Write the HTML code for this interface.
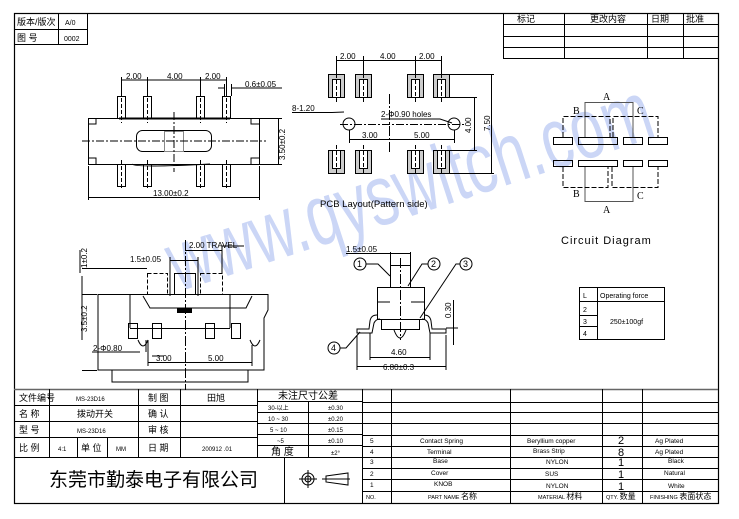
<!DOCTYPE html>
<html><head><meta charset="utf-8"><style>
html,body{margin:0;padding:0;background:#fff;}
svg{display:block}
text{font-family:"Liberation Sans","Noto Sans CJK SC",sans-serif;fill:#000}
</style></head><body>
<svg width="739" height="519" viewBox="0 0 739 519" xmlns="http://www.w3.org/2000/svg">
<!-- watermark -->
<text x="178" y="292" transform="rotate(-18 178 292)" font-size="86" textLength="505" lengthAdjust="spacingAndGlyphs" style="fill:#cbd6f6;font-family:'Liberation Sans',sans-serif">www.qyswitch.com</text>
<g fill="none" stroke="#000" stroke-width="1">
<!-- frame -->
<rect x="14.5" y="13.5" width="704" height="490" stroke-width="1.2"/>
<line x1="14" y1="389.5" x2="718" y2="389.5" stroke="#666" stroke-width="1.5"/>
<!-- top-left box -->
<rect x="14.5" y="13.5" width="73" height="31"/>
<line x1="58.5" y1="13" x2="58.5" y2="44"/>
<line x1="14" y1="29.5" x2="87" y2="29.5"/>
<!-- rev table -->
<rect x="503.5" y="13.5" width="215" height="45"/>
<line x1="564.5" y1="13" x2="564.5" y2="58"/><line x1="647.5" y1="13" x2="647.5" y2="58"/><line x1="683.5" y1="13" x2="683.5" y2="58"/>
<line x1="503" y1="24.5" x2="718" y2="24.5"/><line x1="503" y1="36.5" x2="718" y2="36.5"/><line x1="503" y1="47.5" x2="718" y2="47.5"/>
<!-- bottom-left table -->
<line x1="14" y1="405.5" x2="257" y2="405.5"/><line x1="14" y1="421.5" x2="257" y2="421.5"/><line x1="14" y1="437.5" x2="257" y2="437.5"/>
<line x1="14" y1="457.5" x2="362" y2="457.5"/>
<line x1="49.5" y1="389" x2="49.5" y2="457"/><line x1="138.5" y1="389" x2="138.5" y2="457"/><line x1="180.5" y1="389" x2="180.5" y2="457"/>
<line x1="77.5" y1="437" x2="77.5" y2="457"/><line x1="107.5" y1="437" x2="107.5" y2="457"/>
<line x1="257.5" y1="389" x2="257.5" y2="457"/><line x1="308.5" y1="401" x2="308.5" y2="457"/><line x1="362.5" y1="389" x2="362.5" y2="503"/>
<line x1="257" y1="401.5" x2="362" y2="401.5"/><line x1="257" y1="412.5" x2="362" y2="412.5"/><line x1="257" y1="423.5" x2="362" y2="423.5"/><line x1="257" y1="434.5" x2="362" y2="434.5"/><line x1="257" y1="445.5" x2="362" y2="445.5"/>
<line x1="284.5" y1="457" x2="284.5" y2="503"/>
<!-- symbols -->
<circle cx="308" cy="479" r="6"/><circle cx="308" cy="479" r="3"/><line x1="299" y1="479" x2="317" y2="479"/><line x1="308" y1="470" x2="308" y2="488"/>
<path d="M326 476 L348 473 L348 485 L326 482 Z"/><line x1="322" y1="479" x2="350" y2="479"/>
<!-- right parts table -->
<line x1="391.5" y1="389" x2="391.5" y2="503"/><line x1="510.5" y1="389" x2="510.5" y2="503"/><line x1="602.5" y1="389" x2="602.5" y2="503"/><line x1="642.5" y1="389" x2="642.5" y2="503"/>
<line x1="362" y1="402.5" x2="718" y2="402.5"/><line x1="362" y1="412.5" x2="718" y2="412.5"/><line x1="362" y1="423.5" x2="718" y2="423.5"/><line x1="362" y1="435.5" x2="718" y2="435.5"/><line x1="362" y1="446.5" x2="718" y2="446.5"/><line x1="362" y1="457.5" x2="718" y2="457.5"/><line x1="362" y1="468.5" x2="718" y2="468.5"/><line x1="362" y1="479.5" x2="718" y2="479.5"/><line x1="362" y1="491.5" x2="718" y2="491.5"/>

<!-- TOP VIEW -->
<rect x="88.5" y="118.5" width="171" height="46"/>
<path d="M88 124 h8 v-6 M88 158 h8 v6 M259 124 h-8 v-6 M259 158 h-8 v6"/>
<rect x="136.5" y="130.5" width="75" height="21" rx="6"/>
<rect x="164.5" y="131.5" width="19" height="20" stroke="#888"/>
<path d="M82 141 H266" stroke-dasharray="8,2,2,2"/>
<path d="M174 112 V172" stroke-dasharray="8,2,2,2"/>
<line x1="119" y1="118.5" x2="230" y2="118.5" stroke-width="2"/>
<path d="M132 164 Q135 168 210 164" />
<g>
<rect x="117.5" y="96.5" width="8" height="22"/><rect x="143.5" y="96.5" width="8" height="22"/><rect x="196.5" y="96.5" width="8" height="22"/><rect x="222.5" y="96.5" width="8" height="22"/>
<rect x="117.5" y="164.5" width="8" height="22"/><rect x="143.5" y="164.5" width="8" height="22"/><rect x="196.5" y="164.5" width="8" height="22"/><rect x="222.5" y="164.5" width="8" height="22"/>
</g>
<g stroke-dasharray="4,2"><path d="M121.5 92V123 M147.5 92V123 M200.5 92V123 M226.5 92V123 M121.5 160V190 M147.5 160V190 M200.5 160V190 M226.5 160V190"/></g>
<path d="M121.5 77V96 M147.5 77V96 M200.5 77V96 M226.5 77V96 M121 80H226"/>
<path d="M218 88H224 M232 88H282 M224.5 84V96 M231.5 84V96"/>
<path d="M260 118.5H282 M260 164.5H282 M278.5 118V165"/>
<path d="M88.5 166V200 M259.5 166V200 M88 197.5H259"/>

<!-- PCB LAYOUT -->
<g fill="#ccc"><rect x="328.5" y="74.5" width="16" height="23"/><rect x="355.5" y="74.5" width="16" height="23"/><rect x="407.5" y="74.5" width="16" height="23"/><rect x="433.5" y="74.5" width="16" height="23"/>
<rect x="328.5" y="150.5" width="16" height="23"/><rect x="355.5" y="150.5" width="16" height="23"/><rect x="407.5" y="150.5" width="16" height="23"/><rect x="433.5" y="150.5" width="16" height="23"/></g>
<g fill="#fff"><rect x="332.5" y="79.5" width="8" height="18"/><rect x="359.5" y="79.5" width="8" height="18"/><rect x="411.5" y="79.5" width="8" height="18"/><rect x="437.5" y="79.5" width="8" height="18"/>
<rect x="332.5" y="150.5" width="8" height="18"/><rect x="359.5" y="150.5" width="8" height="18"/><rect x="411.5" y="150.5" width="8" height="18"/><rect x="437.5" y="150.5" width="8" height="18"/></g>
<g stroke-dasharray="4,2"><path d="M336.5 74V104 M363.5 74V104 M415.5 74V104 M441.5 74V104 M336.5 145V175 M363.5 145V175 M415.5 145V175 M441.5 145V175"/></g>
<path d="M336.5 56V74 M363.5 56V74 M415.5 56V74 M441.5 56V74 M336 60.5H441"/>
<circle cx="349" cy="124" r="6"/><circle cx="454" cy="124" r="6"/>
<path d="M340 124.5H464" stroke-dasharray="8,2,2,2"/>
<path d="M389.5 94V154" stroke-dasharray="10,2,2,2"/>
<path d="M349.5 130V143 M454.5 130V143 M349 139.5H454"/>
<path d="M292 112.5H332 L344 112"/>
<path d="M381 119H440 L452 123"/>
<path d="M449 97.5H477 M449 150.5H477 M474.5 97V150 M449 74.5H494 M449 173.5H494 M491.5 74V173"/>

<!-- CIRCUIT -->
<rect x="553.5" y="137.5" width="19" height="7"/><rect x="578.5" y="137.5" width="39" height="7"/><rect x="623.5" y="137.5" width="19" height="7"/><rect x="648.5" y="137.5" width="19" height="7"/>
<rect x="553.5" y="160.5" width="19" height="6"/><rect x="578.5" y="160.5" width="39" height="6"/><rect x="623.5" y="160.5" width="19" height="6"/><rect x="648.5" y="160.5" width="19" height="6"/>
<path d="M585 137V102.5H633V137" stroke="#555"/>
<path d="M585 167V201.5H633V167" stroke="#555"/>
<path d="M563 137V116.5H610V137 M613 137V116.5H658V137" stroke-dasharray="5,2"/>
<path d="M563 167V187.5H608V167 M612 167V187.5H658V167" stroke-dasharray="5,2"/>
<!-- op force table -->
<rect x="579.5" y="287.5" width="85" height="52"/>
<line x1="597.5" y1="287" x2="597.5" y2="339"/>
<line x1="579" y1="301.5" x2="664" y2="301.5"/><line x1="579" y1="315.5" x2="597" y2="315.5"/><line x1="579" y1="326.5" x2="597" y2="326.5"/>

<!-- SIDE VIEW -->
<path d="M98 294.5H268 M268 294V310 L264 318 V370 H248 M98 294V370 H112"/>
<path d="M112 370V382 H248V370 M112 370 H248" />
<path d="M130 328.5H230 M130 294V328 M230 294V328"/>
<path d="M143 296L150 308H246L252 296" />
<rect x="177.5" y="308.5" width="14" height="4" fill="#000"/>
<g stroke-dasharray="4,2"><rect x="147.5" y="273.5" width="20" height="21"/><rect x="200.5" y="273.5" width="22" height="21"/></g>
<rect x="174.5" y="273.5" width="21" height="21"/>
<path d="M185.5 240V390" stroke-dasharray="10,2,2,2"/>
<rect x="128.5" y="323.5" width="9" height="15"/><rect x="152.5" y="323.5" width="9" height="15"/><rect x="205.5" y="323.5" width="9" height="15"/><rect x="231.5" y="323.5" width="9" height="15"/>
<path d="M138 340 q5 12 10 0 M250 340 q5 12 10 0"/>
<path d="M82 268.5H147 M82 276V340 M82 294.5H97 M82 370.5H97 M80 250V273"/>
<path d="M170 260.5H198 M170 257V296 M198 257V296 M185 250.5H222 M222 246V274 M222 246H244"/>
<path d="M92 352H140 M152 356H164 M146 340V352"/>
<path d="M148 362.5H252 M148 340V366 M252 345V366"/>

<!-- FRONT VIEW -->
<rect x="390.5" y="265.5" width="20" height="22"/>
<rect x="377.5" y="287.5" width="47" height="32"/>
<path d="M377 302H390 M411 302H424"/>
<rect x="381.5" y="319.5" width="38" height="10"/>
<path d="M400.5 258V340" stroke-dasharray="10,2,2,2"/>
<path d="M377 315 q-6 0 -7 6 l-1 8 H357 v4 H372 l2 -10 q2 -4 6 -4"/>
<path d="M424 315 q6 0 7 6 l1 8 H446 v4 H430 l-2 -10 q-2 -4 -6 -4"/>
<path d="M394 330 q6 16 12 0"/>
<path d="M346 253.5H410 M390.5 252V265 M410.5 252V265"/>
<circle cx="360" cy="264" r="6"/><circle cx="434" cy="264" r="6"/><circle cx="466" cy="264" r="6"/><circle cx="334" cy="348" r="6"/>
<path d="M366 264H378 L390 276 M428 264H422 L408 286 M460 264H456 L420 318 M340 348H346 L360 332"/>
<path d="M370 333V360 M430 333V360 M370 357.5H430 M357 335V370 M446 335V370 M357 366.5H446"/>
<path d="M453.5 300V345 M446 328H458"/>
</g>

<!-- texts -->
<g font-size="9">
<text x="17" y="25">版本/版次</text><text x="65" y="25" font-size="7">A/0</text>
<text x="17" y="41">图 号</text><text x="64" y="41" font-size="7">0002</text>
<text x="517" y="22">标记</text><text x="590" y="22">更改内容</text><text x="651" y="22">日期</text><text x="686" y="22">批准</text>
<text x="19" y="401">文件编号</text><text x="76" y="401" font-size="6">MS-23D16</text><text x="148" y="401">制 图</text><text x="207" y="401">田旭</text>
<text x="19" y="417">名 称</text><text x="77" y="417">拨动开关</text><text x="148" y="417">确 认</text>
<text x="19" y="433">型 号</text><text x="77" y="433" font-size="6">MS-23D16</text><text x="148" y="433">审 核</text>
<text x="19" y="451">比 例</text><text x="58" y="451" font-size="6">4:1</text><text x="81" y="451">单 位</text><text x="116" y="451" font-size="6">MM</text><text x="148" y="451">日 期</text><text x="202" y="451" font-size="6">200912 .01</text>
<text x="278" y="399" font-size="10">未注尺寸公差</text>
<g font-size="6"><text x="268" y="410">30-以上</text><text x="328" y="410">±0.30</text><text x="268" y="421">10 ~ 30</text><text x="328" y="421">±0.20</text><text x="270" y="432">5 ~ 10</text><text x="328" y="432">±0.15</text><text x="277" y="443">~5</text><text x="328" y="443">±0.10</text><text x="331" y="455">±2°</text></g>
<text x="271" y="455" font-size="10">角 度</text>
<text x="49" y="486" font-size="19">东莞市勤泰电子有限公司</text>
<g font-size="6.5">
<text x="370" y="443">5</text><text x="420" y="443">Contact Spring</text><text x="527" y="443">Beryllium copper</text><text x="655" y="443">Ag Plated</text>
<text x="370" y="454">4</text><text x="427" y="454">Terminal</text><text x="533" y="453">Brass Strip</text><text x="655" y="454">Ag Plated</text>
<text x="370" y="464">3</text><text x="433" y="463">Base</text><text x="546" y="464">NYLON</text><text x="668" y="463">Black</text>
<text x="370" y="476">2</text><text x="431" y="475">Cover</text><text x="545" y="476">SUS</text><text x="664" y="475">Natural</text>
<text x="370" y="487">1</text><text x="434" y="486">KNOB</text><text x="546" y="488">NYLON</text><text x="668" y="488">White</text>
<text x="366" y="499" font-size="5.5">NO.</text><text x="428" y="499" font-size="5.5">PART NAME <tspan font-size="8">名称</tspan></text><text x="538" y="499" font-size="5.5">MATERIAL <tspan font-size="8">材料</tspan></text><text x="606" y="499" font-size="5.5">QTY. <tspan font-size="8">数量</tspan></text><text x="650" y="499" font-size="5.5">FINISHING <tspan font-size="8">表面状态</tspan></text>
</g>
<g font-size="11"><text x="618" y="444">2</text><text x="618" y="456">8</text><text x="618" y="466">1</text><text x="618" y="478">1</text><text x="618" y="490">1</text></g>
</g>
<g font-size="8" style="fill:#222">
<text x="126" y="79">2.00</text><text x="167" y="79">4.00</text><text x="205" y="79">2.00</text>
<text x="245" y="87">0.6±0.05</text>
<text x="285" y="160" transform="rotate(-90 285 160)">3.50±0.2</text>
<text x="153" y="196">13.00±0.2</text>
<text x="340" y="59">2.00</text><text x="380" y="59">4.00</text><text x="419" y="59">2.00</text>
<text x="292" y="111">8-1.20</text><text x="381" y="117">2-Φ0.90 holes</text>
<text x="362" y="138">3.00</text><text x="414" y="138">5.00</text>
<text x="471" y="133" transform="rotate(-90 471 133)">4.00</text>
<text x="490" y="131" transform="rotate(-90 490 131)">7.50</text>
<text x="320" y="207" font-size="9.5">PCB Layout(Pattern side)</text>
<text x="561" y="244" font-size="11" letter-spacing="1">Circuit Diagram</text>
<text x="583" y="298" font-size="7">L</text><text x="600" y="298" font-size="7">Operating force</text>
<text x="583" y="312" font-size="7">2</text><text x="583" y="324" font-size="7">3</text><text x="583" y="336" font-size="7">4</text>
<text x="610" y="324" font-size="7">250±100gf</text>
<text x="189" y="248">2.00 TRAVEL</text><text x="130" y="262">1.5±0.05</text>
<text x="87" y="268" transform="rotate(-90 87 268)">1±0.2</text>
<text x="87" y="332" transform="rotate(-90 87 332)">3.5±0.2</text>
<text x="93" y="351">2-Φ0.80</text>
<text x="156" y="361">3.00</text><text x="208" y="361">5.00</text>
<text x="346" y="252">1.5±0.05</text>
<text x="391" y="355">4.60</text><text x="383" y="370">6.80±0.3</text>
<text x="451" y="318" transform="rotate(-90 451 318)">0.30</text>
</g>
<g font-size="10"><text x="603" y="100" style="font-family:'Liberation Serif',serif">A</text><text x="573" y="114" style="font-family:'Liberation Serif',serif">B</text><text x="637" y="114" style="font-family:'Liberation Serif',serif">C</text><text x="573" y="197" style="font-family:'Liberation Serif',serif">B</text><text x="637" y="199" style="font-family:'Liberation Serif',serif">C</text><text x="603" y="213" style="font-family:'Liberation Serif',serif">A</text></g>
<g font-size="9"><text x="357" y="267">1</text><text x="431" y="267">2</text><text x="463" y="267">3</text><text x="331" y="351">4</text></g>
</svg>
</body></html>
